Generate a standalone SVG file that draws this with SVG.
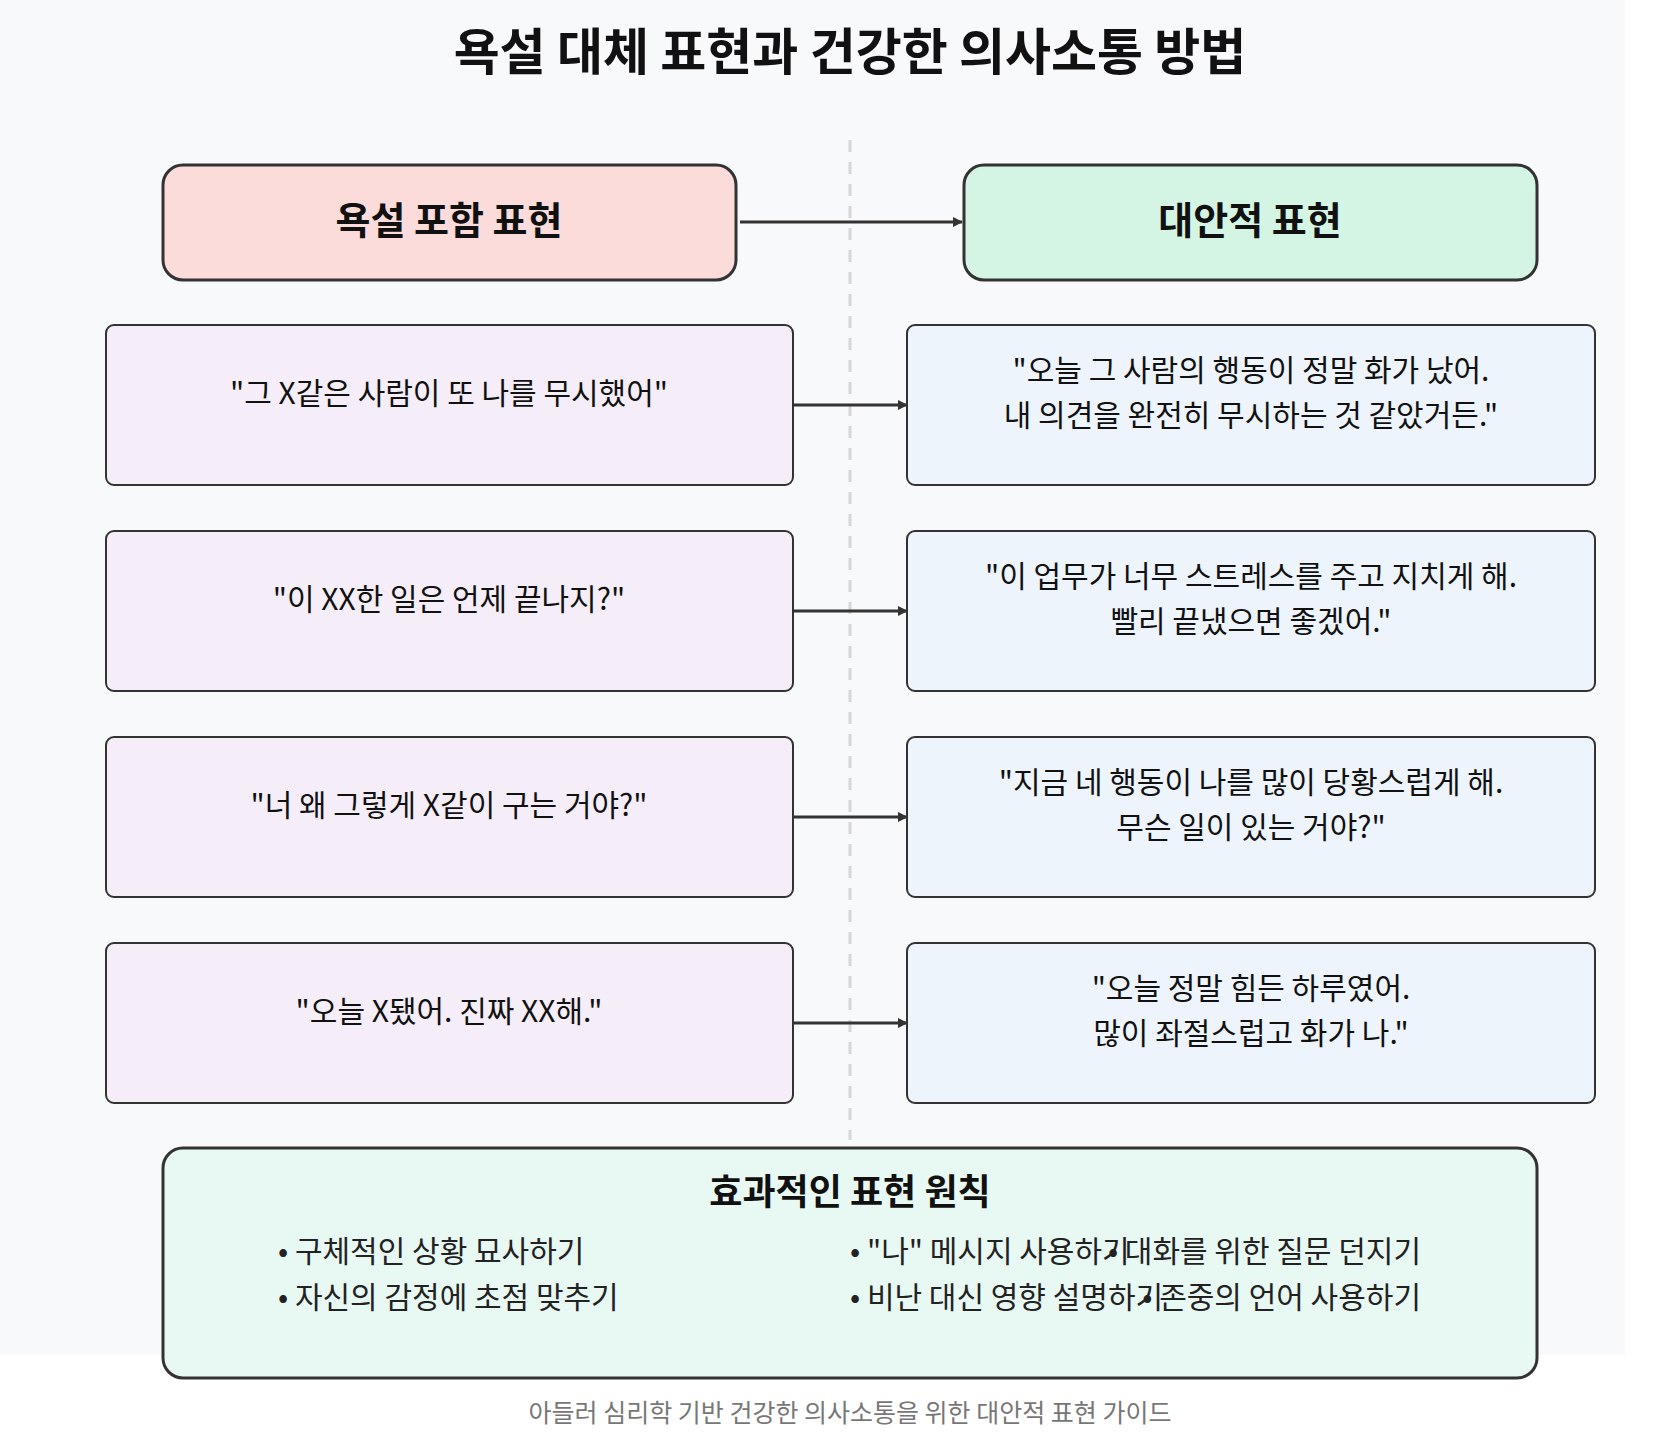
<svg xmlns="http://www.w3.org/2000/svg" width="1667" height="1443" viewBox="0 0 1667 1443">
<defs>
<marker id="ah" markerWidth="10" markerHeight="10" refX="9" refY="5" orient="auto" markerUnits="userSpaceOnUse"><path d="M0,0 L10,5 L0,10 z" fill="#333"/></marker>
<style>
text{font-family:"Noto Sans CJK KR","Noto Sans",sans-serif;fill:#111;text-anchor:middle}
.hd{font-size:38px;font-weight:bold}
.t{font-size:30px}
.l{fill:#f5eef9;stroke:#333;stroke-width:2}
.r{fill:#edf4fc;stroke:#333;stroke-width:2}
.c{stroke:#333;stroke-width:3;fill:none;marker-end:url(#ah)}
.b{font-size:30px;fill:#222}
</style>
</defs>
<rect width="1667" height="1443" fill="#fff"/>
<rect width="1625" height="1355" fill="#f8f9fb"/>
<text x="850" y="70" style="font-size:50px;font-weight:bold">욕설 대체 표현과 건강한 의사소통 방법</text>
<line x1="850" y1="140" x2="850" y2="1140" stroke="#d6d6d6" stroke-width="3" stroke-dasharray="12,10"/>
<g id="hdr-left"><rect x="163" y="165" width="573" height="115" rx="20" fill="#fbdcda" stroke="#333" stroke-width="3"/><text class="hd" x="449" y="234">욕설 포함 표현</text></g>
<g id="hdr-right"><rect x="964" y="165" width="573" height="115" rx="20" fill="#d4f5e3" stroke="#333" stroke-width="3"/><text class="hd" x="1250" y="234">대안적 표현</text></g>
<g id="l1"><rect class="l" x="106" y="325" width="687" height="160" rx="8"/><text class="t" x="449" y="404">"그 X같은 사람이 또 나를 무시했어"</text></g>
<g id="r1"><rect class="r" x="907" y="325" width="688" height="160" rx="8"/><text class="t" x="1251" y="381">"오늘 그 사람의 행동이 정말 화가 났어.</text><text class="t" x="1251" y="426">내 의견을 완전히 무시하는 것 같았거든."</text></g>
<g id="l2"><rect class="l" x="106" y="531" width="687" height="160" rx="8"/><text class="t" x="449" y="610">"이 XX한 일은 언제 끝나지?"</text></g>
<g id="r2"><rect class="r" x="907" y="531" width="688" height="160" rx="8"/><text class="t" x="1251" y="587">"이 업무가 너무 스트레스를 주고 지치게 해.</text><text class="t" x="1251" y="632">빨리 끝냈으면 좋겠어."</text></g>
<g id="l3"><rect class="l" x="106" y="737" width="687" height="160" rx="8"/><text class="t" x="449" y="816">"너 왜 그렇게 X같이 구는 거야?"</text></g>
<g id="r3"><rect class="r" x="907" y="737" width="688" height="160" rx="8"/><text class="t" x="1251" y="793">"지금 네 행동이 나를 많이 당황스럽게 해.</text><text class="t" x="1251" y="838">무슨 일이 있는 거야?"</text></g>
<g id="l4"><rect class="l" x="106" y="943" width="687" height="160" rx="8"/><text class="t" x="449" y="1022">"오늘 X됐어. 진짜 XX해."</text></g>
<g id="r4"><rect class="r" x="907" y="943" width="688" height="160" rx="8"/><text class="t" x="1251" y="999">"오늘 정말 힘든 하루였어.</text><text class="t" x="1251" y="1044">많이 좌절스럽고 화가 나."</text></g>
<g id="connectors">
<line class="c" x1="740" y1="222" x2="962" y2="222"/>
<line class="c" x1="793" y1="405" x2="907" y2="405"/>
<line class="c" x1="793" y1="611" x2="907" y2="611"/>
<line class="c" x1="793" y1="817" x2="907" y2="817"/>
<line class="c" x1="793" y1="1023" x2="907" y2="1023"/>
</g>
<g id="principles"><rect x="163" y="1148" width="1374" height="230" rx="20" fill="#e8f8f3" stroke="#333" stroke-width="3"/>
<text x="850" y="1205" style="font-size:36px;font-weight:bold">효과적인 표현 원칙</text>
<text class="b" x="278" y="1262" style="text-anchor:start">• 구체적인 상황 묘사하기</text>
<text class="b" x="278" y="1308" style="text-anchor:start">• 자신의 감정에 초점 맞추기</text>
<text class="b" x="850" y="1262" style="text-anchor:start">• "나" 메시지 사용하기</text>
<text class="b" x="850" y="1308" style="text-anchor:start">• 비난 대신 영향 설명하기</text>
<text class="b" x="1421" y="1262" style="text-anchor:end">• 대화를 위한 질문 던지기</text>
<text class="b" x="1421" y="1308" style="text-anchor:end">• 존중의 언어 사용하기</text>
</g>
<text x="850" y="1422" style="font-size:25px;fill:#777">아들러 심리학 기반 건강한 의사소통을 위한 대안적 표현 가이드</text>
</svg>
